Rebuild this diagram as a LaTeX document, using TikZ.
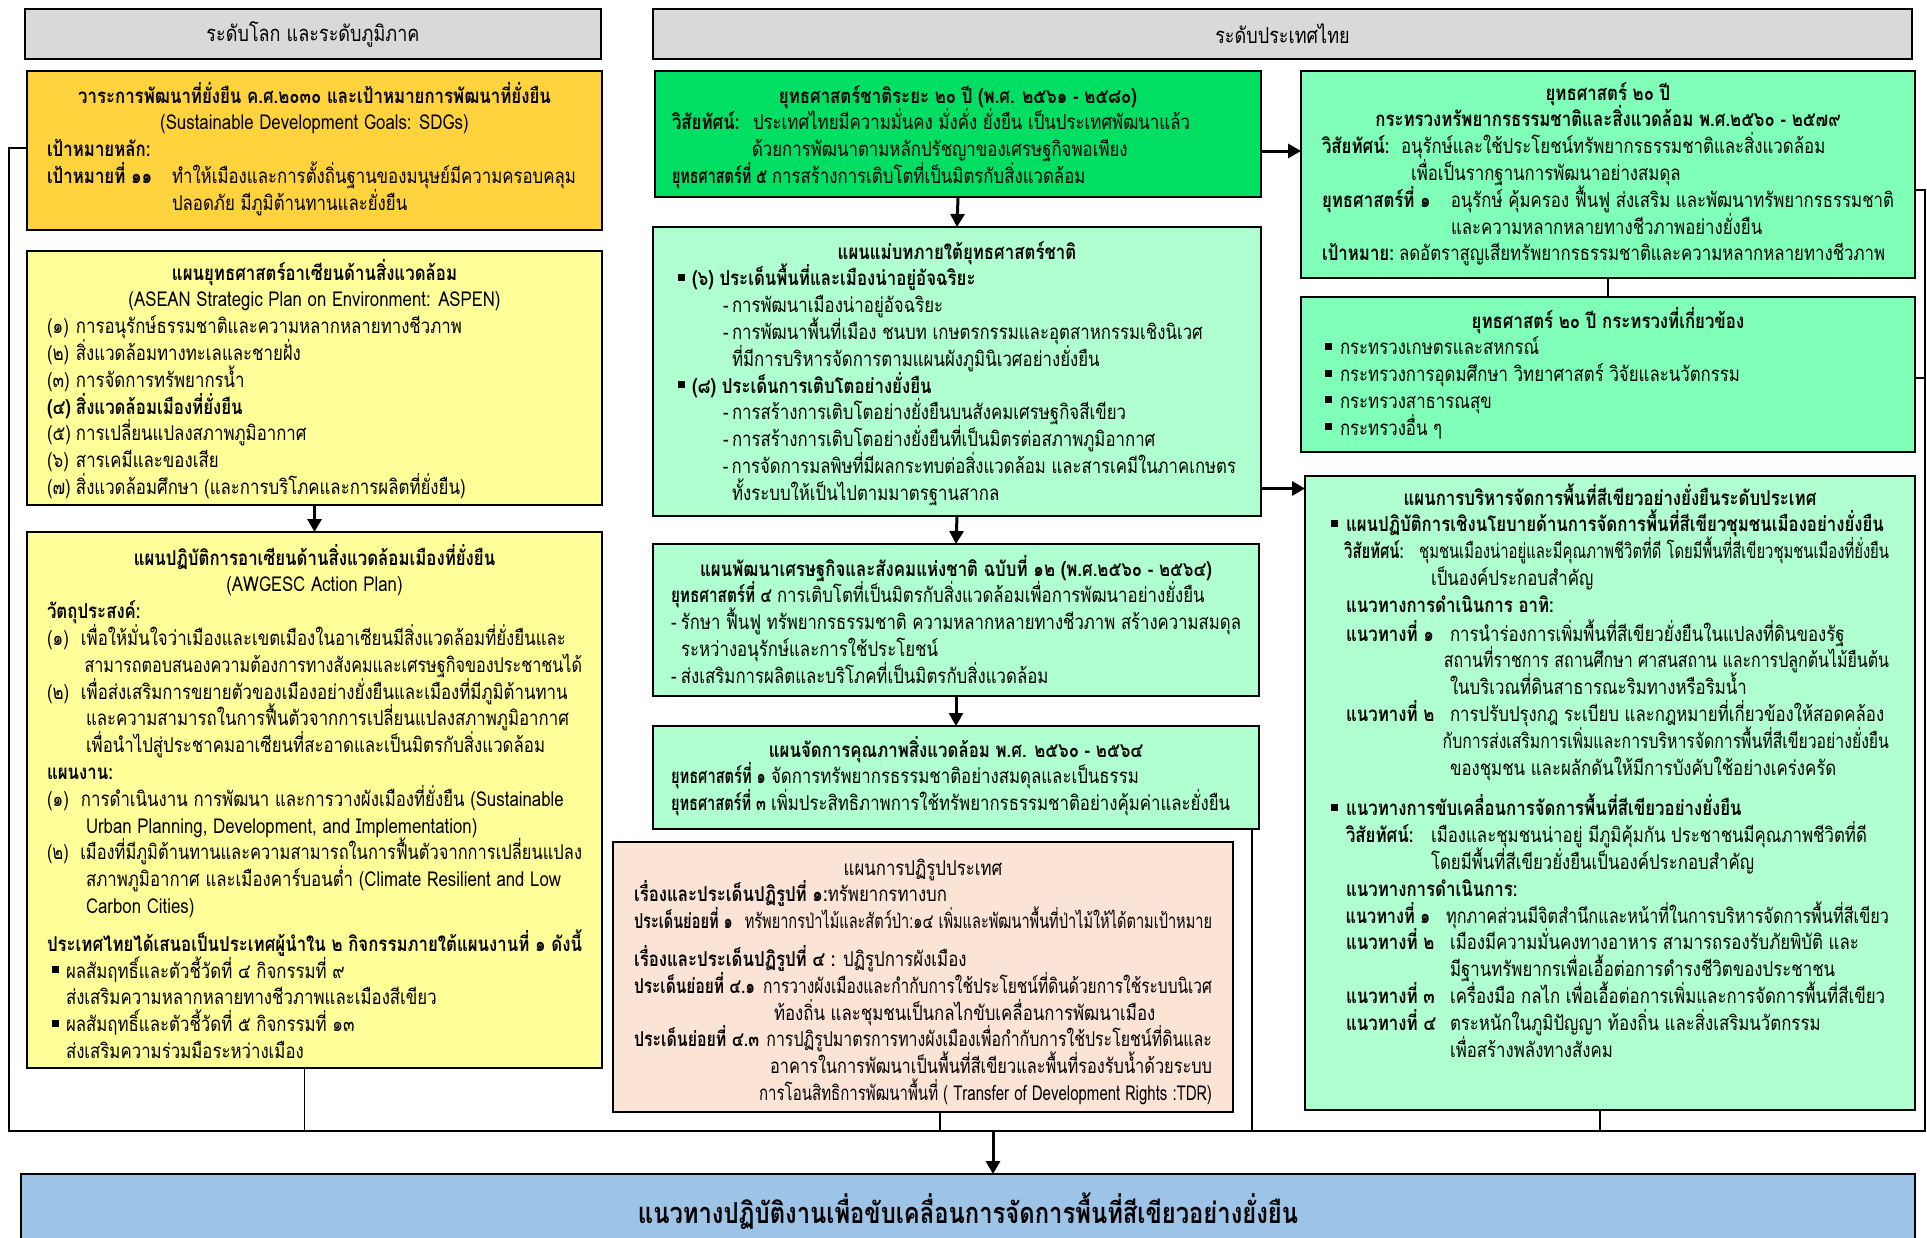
\documentclass[tikz,border=0pt]{standalone}
\usepackage{fontspec}
\usepackage{graphicx}
\setmainfont{Loma}[Script=Thai,FakeStretch=0.82]
\usetikzlibrary{arrows.meta,calc}
\definecolor{hdr}{HTML}{D9D9D9}
\definecolor{gold}{HTML}{FFD33D}
\definecolor{lyel}{HTML}{FFFF99}
\definecolor{bgreen}{HTML}{00DF63}
\definecolor{mgreen}{HTML}{80FFB9}
\definecolor{lmint}{HTML}{B0FFD0}
\definecolor{pinkb}{HTML}{FBE4D5}
\definecolor{bann}{HTML}{9DC3E6}
\newcommand\bodyfont{\fontsize{20.5}{26.8}\selectfont}
\newsavebox\fitbox
\newdimen\labw
\newcommand\fitto[2]{\sbox\fitbox{#2}\ifdim\wd\fitbox>#1\relax\pgfmathsetmacro\fitr{#1/\wd\fitbox}\scalebox{\fitr}[1]{\usebox\fitbox}\else\usebox\fitbox\fi}
\newcommand\lineL[1]{\hbox to\hsize{\fitto{\hsize}{#1}\hss}}
\newcommand\lineC[1]{\hbox to\hsize{\hss\fitto{\hsize}{#1}\hss}}
\newcommand\tbox[2]{\vtop{\hsize=#1\relax\bodyfont\lineskiplimit=-\maxdimen\lineskip=0pt\parindent=0pt #2}}
\newcommand\lab[2]{\labw=\dimexpr#1-5pt\relax\makebox[#1][l]{\fitto{\labw}{\bfseries #2}}}
\newcommand\nm[2]{\makebox[#1][l]{#2}}
\newcommand\bul{\raisebox{5pt}{\rule{7pt}{7pt}}}
\tikzset{
  box/.style={draw=black,line width=2.4pt,inner sep=0pt,outer sep=0pt,anchor=north west},
  txt/.style={anchor=base west,inner sep=0pt,outer sep=0pt},
  arr/.style={line width=3pt,-{Triangle[length=13pt,width=14pt]}},
  con/.style={line width=1.8pt}
}
\begin{document}
\begin{tikzpicture}[x=1pt,y=-1pt]
\useasboundingbox (0,0) rectangle (1927,1237);
\fill[white] (0,0) rectangle (1927,1237);
% headers
\node[box,fill=hdr,minimum width=576pt,minimum height=50pt] (hl) at (25,9) {};
\node[font=\fontsize{22}{26}\selectfont] (hlt) at (hl.center) {ระดับโลก และระดับภูมิภาค};
\node[box,fill=hdr,minimum width=1259pt,minimum height=50pt] (hr) at (653,9) {};
\node[font=\fontsize{22}{26}\selectfont] (hrt) at (hr.center) {ระดับประเทศไทย};
% left column
\node[box,fill=gold,minimum width=575pt,minimum height=159pt] (sdg) at (27,71) {};
\node[txt] (sdgt) at (47,103) {\tbox{535pt}{%
\lineC{\bfseries วาระการพัฒนาที่ยั่งยืน ค.ศ.๒๐๓๐ และเป้าหมายการพัฒนาที่ยั่งยืน}
\lineC{(Sustainable Development Goals: SDGs)}
\lineL{\bfseries เป้าหมายหลัก:}
\lineL{\lab{125pt}{เป้าหมายที่ ๑๑}ทำให้เมืองและการตั้งถิ่นฐานของมนุษย์มีความครอบคลุม}
\lineL{\hskip125pt ปลอดภัย มีภูมิต้านทานและยั่งยืน}}};
\node[box,fill=lyel,minimum width=575pt,minimum height=254pt] (asp) at (27,251) {};
\node[txt] (aspt) at (47,280) {\tbox{535pt}{%
\lineC{\bfseries แผนยุทธศาสตร์อาเซียนด้านสิ่งแวดล้อม}
\lineC{(ASEAN Strategic Plan on Environment: ASPEN)}
\lineL{\nm{29pt}{(๑)}การอนุรักษ์ธรรมชาติและความหลากหลายทางชีวภาพ}
\lineL{\nm{29pt}{(๒)}สิ่งแวดล้อมทางทะเลและชายฝั่ง}
\lineL{\nm{29pt}{(๓)}การจัดการทรัพยากรน้ำ}
\lineL{\bfseries\nm{29pt}{(๔)}สิ่งแวดล้อมเมืองที่ยั่งยืน}
\lineL{\nm{29pt}{(๕)}การเปลี่ยนแปลงสภาพภูมิอากาศ}
\lineL{\nm{29pt}{(๖)}สารเคมีและของเสีย}
\lineL{\nm{29pt}{(๗)}สิ่งแวดล้อมศึกษา (และการบริโภคและการผลิตที่ยั่งยืน)}}};
\node[box,fill=lyel,minimum width=575pt,minimum height=536pt] (awg) at (27,532) {};
\node[txt] (awgt) at (47,565) {\tbox{535pt}{%
\lineC{\bfseries แผนปฏิบัติการอาเซียนด้านสิ่งแวดล้อมเมืองที่ยั่งยืน}
\lineC{(AWGESC Action Plan)}
\lineL{\bfseries วัตถุประสงค์:}
\lineL{\nm{34pt}{(๑)}เพื่อให้มั่นใจว่าเมืองและเขตเมืองในอาเซียนมีสิ่งแวดล้อมที่ยั่งยืนและ}
\lineL{\hskip39pt สามารถตอบสนองความต้องการทางสังคมและเศรษฐกิจของประชาชนได้}
\lineL{\nm{34pt}{(๒)}เพื่อส่งเสริมการขยายตัวของเมืองอย่างยั่งยืนและเมืองที่มีภูมิต้านทาน}
\lineL{\hskip39pt และความสามารถในการฟื้นตัวจากการเปลี่ยนแปลงสภาพภูมิอากาศ}
\lineL{\hskip39pt เพื่อนำไปสู่ประชาคมอาเซียนที่สะอาดและเป็นมิตรกับสิ่งแวดล้อม}
\lineL{\bfseries แผนงาน:}
\lineL{\nm{34pt}{(๑)}การดำเนินงาน การพัฒนา และการวางผังเมืองที่ยั่งยืน (Sustainable}
\lineL{\hskip39pt Urban Planning, Development, and Implementation)}
\lineL{\nm{34pt}{(๒)}เมืองที่มีภูมิต้านทานและความสามารถในการฟื้นตัวจากการเปลี่ยนแปลง}
\lineL{\hskip39pt สภาพภูมิอากาศ และเมืองคาร์บอนต่ำ (Climate Resilient and Low}
\lineL{\hskip39pt Carbon Cities)}
\vskip11pt
\lineL{\bfseries ประเทศไทยได้เสนอเป็นประเทศผู้นำใน ๒ กิจกรรมภายใต้แผนงานที่ ๑ ดังนี้}
\lineL{\hskip5pt\nm{14pt}{\bul}ผลสัมฤทธิ์และตัวชี้วัดที่ ๔ กิจกรรมที่ ๙}
\lineL{\hskip19pt ส่งเสริมความหลากหลายทางชีวภาพและเมืองสีเขียว}
\lineL{\hskip5pt\nm{14pt}{\bul}ผลสัมฤทธิ์และตัวชี้วัดที่ ๕ กิจกรรมที่ ๑๓}
\lineL{\hskip19pt ส่งเสริมความร่วมมือระหว่างเมือง}}};
% middle column
\node[box,fill=bgreen,minimum width=606pt,minimum height=126pt] (m1) at (655,71) {};
\node[txt] (m1t) at (672,103) {\tbox{572pt}{%
\lineC{\bfseries ยุทธศาสตร์ชาติระยะ ๒๐ ปี (พ.ศ. ๒๕๖๑ - ๒๕๘๐)}
\lineL{\lab{81pt}{วิสัยทัศน์:}ประเทศไทยมีความมั่นคง มั่งคั่ง ยั่งยืน เป็นประเทศพัฒนาแล้ว}
\lineL{\hskip80pt ด้วยการพัฒนาตามหลักปรัชญาของเศรษฐกิจพอเพียง}
\lineL{\lab{100pt}{ยุทธศาสตร์ที่ ๕}การสร้างการเติบโตที่เป็นมิตรกับสิ่งแวดล้อม}}};
\node[box,fill=lmint,minimum width=608pt,minimum height=289pt] (m2) at (653,227) {};
\node[txt] (m2t) at (678,259) {\tbox{558pt}{%
\lineC{\bfseries แผนแม่บทภายใต้ยุทธศาสตร์ชาติ}
\lineL{\nm{14pt}{\bul}\bfseries (๖) ประเด็นพื้นที่และเมืองน่าอยู่อัจฉริยะ}
\lineL{\hskip45pt\nm{9pt}{-}การพัฒนาเมืองน่าอยู่อัจฉริยะ}
\lineL{\hskip45pt\nm{9pt}{-}การพัฒนาพื้นที่เมือง ชนบท เกษตรกรรมและอุตสาหกรรมเชิงนิเวศ}
\lineL{\hskip54pt ที่มีการบริหารจัดการตามแผนผังภูมินิเวศอย่างยั่งยืน}
\lineL{\nm{14pt}{\bul}\bfseries (๘) ประเด็นการเติบโตอย่างยั่งยืน}
\lineL{\hskip45pt\nm{9pt}{-}การสร้างการเติบโตอย่างยั่งยืนบนสังคมเศรษฐกิจสีเขียว}
\lineL{\hskip45pt\nm{9pt}{-}การสร้างการเติบโตอย่างยั่งยืนที่เป็นมิตรต่อสภาพภูมิอากาศ}
\lineL{\hskip45pt\nm{9pt}{-}การจัดการมลพิษที่มีผลกระทบต่อสิ่งแวดล้อม และสารเคมีในภาคเกษตร}
\lineL{\hskip54pt ทั้งระบบให้เป็นไปตามมาตรฐานสากล}}};
\node[box,fill=lmint,minimum width=606pt,minimum height=152pt] (m3) at (653,544) {};
\node[txt] (m3t) at (671,576) {\tbox{570pt}{%
\lineC{\bfseries แผนพัฒนาเศรษฐกิจและสังคมแห่งชาติ ฉบับที่ ๑๒ (พ.ศ.๒๕๖๐ - ๒๕๖๔)}
\lineL{\lab{106pt}{ยุทธศาสตร์ที่ ๔}การเติบโตที่เป็นมิตรกับสิ่งแวดล้อมเพื่อการพัฒนาอย่างยั่งยืน}
\lineL{\nm{10pt}{-}รักษา ฟื้นฟู ทรัพยากรธรรมชาติ ความหลากหลายทางชีวภาพ สร้างความสมดุล}
\lineL{\hskip10pt ระหว่างอนุรักษ์และการใช้ประโยชน์}
\lineL{\nm{10pt}{-}ส่งเสริมการผลิตและบริโภคที่เป็นมิตรกับสิ่งแวดล้อม}}};
\node[box,fill=lmint,minimum width=606pt,minimum height=103pt] (m4) at (653,726) {};
\node[txt] (m4t) at (671,757) {\tbox{570pt}{%
\lineC{\bfseries แผนจัดการคุณภาพสิ่งแวดล้อม พ.ศ. ๒๕๖๐ - ๒๕๖๔}
\lineL{\lab{100pt}{ยุทธศาสตร์ที่ ๑}จัดการทรัพยากรธรรมชาติอย่างสมดุลและเป็นธรรม}
\lineL{\lab{100pt}{ยุทธศาสตร์ที่ ๓}เพิ่มประสิทธิภาพการใช้ทรัพยากรธรรมชาติอย่างคุ้มค่าและยั่งยืน}}};
\node[box,fill=pinkb,line width=2pt,minimum width=620pt,minimum height=270pt] (pk) at (613,842) {};
\node[txt] (pkt) at (634,875) {\tbox{578pt}{%
\lineC{แผนการปฏิรูปประเทศ}
\lineL{{\bfseries เรื่องและประเด็นปฏิรูปที่ ๑:}ทรัพยากรทางบก}
\lineL{\lab{128pt}{ประเด็นย่อยที่ ๑}ทรัพยากรป่าไม้และสัตว์ป่า:๑๔ เพิ่มและพัฒนาพื้นที่ป่าไม้ให้ได้ตามเป้าหมาย}
\vskip11pt
\lineL{{\bfseries เรื่องและประเด็นปฏิรูปที่ ๔ :} ปฏิรูปการผังเมือง}
\lineL{\lab{140pt}{ประเด็นย่อยที่ ๔.๑}การวางผังเมืองและกำกับการใช้ประโยชน์ที่ดินด้วยการใช้ระบบนิเวศ}
\lineL{\hskip140pt ท้องถิ่น และชุมชนเป็นกลไกขับเคลื่อนการพัฒนาเมือง}
\lineL{\lab{140pt}{ประเด็นย่อยที่ ๔.๓}การปฏิรูปมาตรการทางผังเมืองเพื่อกำกับการใช้ประโยชน์ที่ดินและ}
\lineL{\hskip140pt อาคารในการพัฒนาเป็นพื้นที่สีเขียวและพื้นที่รองรับน้ำด้วยระบบ}
\lineL{\hskip140pt การโอนสิทธิการพัฒนาพื้นที่ ( Transfer of Development Rights :TDR)}}};
% right column
\node[box,fill=mgreen,minimum width=614pt,minimum height=207pt] (r1) at (1301,71) {};
\node[txt] (r1t) at (1322,100) {\tbox{572pt}{%
\lineC{\bfseries ยุทธศาสตร์ ๒๐ ปี}
\lineC{\bfseries กระทรวงทรัพยากรธรรมชาติและสิ่งแวดล้อม พ.ศ.๒๕๖๐ - ๒๕๗๙}
\lineL{\lab{79pt}{วิสัยทัศน์:}อนุรักษ์และใช้ประโยชน์ทรัพยากรธรรมชาติและสิ่งแวดล้อม}
\lineL{\hskip89pt เพื่อเป็นรากฐานการพัฒนาอย่างสมดุล}
\lineL{\lab{129pt}{ยุทธศาสตร์ที่ ๑}อนุรักษ์ คุ้มครอง ฟื้นฟู ส่งเสริม และพัฒนาทรัพยากรธรรมชาติ}
\lineL{\hskip129pt และความหลากหลายทางชีวภาพอย่างยั่งยืน}
\lineL{\lab{77pt}{เป้าหมาย:}ลดอัตราสูญเสียทรัพยากรธรรมชาติและความหลากหลายทางชีวภาพ}}};
\node[box,fill=mgreen,minimum width=614pt,minimum height=155pt] (r2) at (1301,297) {};
\node[txt] (r2t) at (1325,328) {\tbox{566pt}{%
\lineC{\bfseries ยุทธศาสตร์ ๒๐ ปี กระทรวงที่เกี่ยวข้อง}
\lineL{\nm{15pt}{\bul}กระทรวงเกษตรและสหกรณ์}
\lineL{\nm{15pt}{\bul}กระทรวงการอุดมศึกษา วิทยาศาสตร์ วิจัยและนวัตกรรม}
\lineL{\nm{15pt}{\bul}กระทรวงสาธารณสุข}
\lineL{\nm{15pt}{\bul}กระทรวงอื่น ๆ}}};
\node[box,fill=lmint,minimum width=610pt,minimum height=634pt] (r3) at (1305,476) {};
\node[txt] (r3t) at (1331,505) {\tbox{558pt}{%
\lineC{\bfseries แผนการบริหารจัดการพื้นที่สีเขียวอย่างยั่งยืนระดับประเทศ}
\lineL{\nm{15pt}{\bul}\bfseries แผนปฏิบัติการเชิงนโยบายด้านการจัดการพื้นที่สีเขียวชุมชนเมืองอย่างยั่งยืน}
\lineL{\hskip15pt\lab{85pt}{วิสัยทัศน์:}ชุมชนเมืองน่าอยู่และมีคุณภาพชีวิตที่ดี โดยมีพื้นที่สีเขียวชุมชนเมืองที่ยั่งยืน}
\lineL{\hskip100pt เป็นองค์ประกอบสำคัญ}
\lineL{\hskip15pt\bfseries แนวทางการดำเนินการ อาทิ:}
\vskip2pt
\lineL{\hskip15pt\lab{104pt}{แนวทางที่ ๑}การนำร่องการเพิ่มพื้นที่สีเขียวยั่งยืนในแปลงที่ดินของรัฐ}
\lineL{\hskip119pt สถานที่ราชการ สถานศึกษา ศาสนสถาน และการปลูกต้นไม้ยืนต้น}
\lineL{\hskip119pt ในบริเวณที่ดินสาธารณะริมทางหรือริมน้ำ}
\lineL{\hskip15pt\lab{104pt}{แนวทางที่ ๒}การปรับปรุงกฎ ระเบียบ และกฎหมายที่เกี่ยวข้องให้สอดคล้อง}
\lineL{\hskip119pt กับการส่งเสริมการเพิ่มและการบริหารจัดการพื้นที่สีเขียวอย่างยั่งยืน}
\lineL{\hskip119pt ของชุมชน และผลักดันให้มีการบังคับใช้อย่างเคร่งครัด}
\vskip14pt
\lineL{\nm{15pt}{\bul}\bfseries แนวทางการขับเคลื่อนการจัดการพื้นที่สีเขียวอย่างยั่งยืน}
\lineL{\hskip15pt\lab{85pt}{วิสัยทัศน์:}เมืองและชุมชนน่าอยู่ มีภูมิคุ้มกัน ประชาชนมีคุณภาพชีวิตที่ดี}
\lineL{\hskip100pt โดยมีพื้นที่สีเขียวยั่งยืนเป็นองค์ประกอบสำคัญ}
\lineL{\hskip15pt\bfseries แนวทางการดำเนินการ:}
\lineL{\hskip15pt\lab{104pt}{แนวทางที่ ๑}ทุกภาคส่วนมีจิตสำนึกและหน้าที่ในการบริหารจัดการพื้นที่สีเขียว}
\lineL{\hskip15pt\lab{104pt}{แนวทางที่ ๒}เมืองมีความมั่นคงทางอาหาร สามารถรองรับภัยพิบัติ และ}
\lineL{\hskip119pt มีฐานทรัพยากรเพื่อเอื้อต่อการดำรงชีวิตของประชาชน}
\lineL{\hskip15pt\lab{104pt}{แนวทางที่ ๓}เครื่องมือ กลไก เพื่อเอื้อต่อการเพิ่มและการจัดการพื้นที่สีเขียว}
\lineL{\hskip15pt\lab{104pt}{แนวทางที่ ๔}ตระหนักในภูมิปัญญา ท้องถิ่น และสิ่งเสริมนวัตกรรม}
\lineL{\hskip119pt เพื่อสร้างพลังทางสังคม}}};
% banner
\node[box,fill=bann,minimum width=1894pt,minimum height=70pt] (ban) at (21,1174) {};
\node[font=\fontsize{29}{34}\selectfont\bfseries] (bant) at (968,1211) {แนวทางปฏิบัติงานเพื่อขับเคลื่อนการจัดการพื้นที่สีเขียวอย่างยั่งยืน};
% connectors
\coordinate (tl) at (9,148);
\coordinate (bl) at (9,1131);
\coordinate (br) at (1925,1131);
\coordinate (tr) at (1925,190);
\coordinate (bj) at (993,1131);
\draw[con] (sdg.west |- tl) -- (tl) -- (bl) -- (br) -- (tr) -- (tr -| r1.east);
\draw[con] (r2.east |- 0,378) -- (1925,378);
\draw[con] ([xshift=-10pt]awg.south) -- ([xshift=-10pt]awg.south |- bl);
\draw[con] ([xshift=17pt]pk.south) -- ([xshift=17pt]pk.south |- bl);
\draw[con] ([xshift=-7pt]m4.south east) -- ([xshift=-7pt]m4.south east |- bl);
\draw[con] ([xshift=-10pt]r3.south) -- ([xshift=-10pt]r3.south |- bl);
\draw[con] (r1.south) -- (r2.north);
\draw[arr] (asp.south) -- (awg.north);
\draw[arr] (m1.south) -- (m2.north);
\draw[arr] (m2.south) -- (m3.north);
\draw[arr] (m3.south) -- (m4.north);
\draw[arr] ([yshift=-17pt]m1.east) -- ([yshift=-17pt]m1.east -| r1.west);
\draw[arr] ([yshift=-117pt]m2.east) -- ([yshift=-117pt]m2.east -| r3.west);
\draw[arr] (bj) -- (bj |- ban.north);
\end{tikzpicture}
\end{document}
